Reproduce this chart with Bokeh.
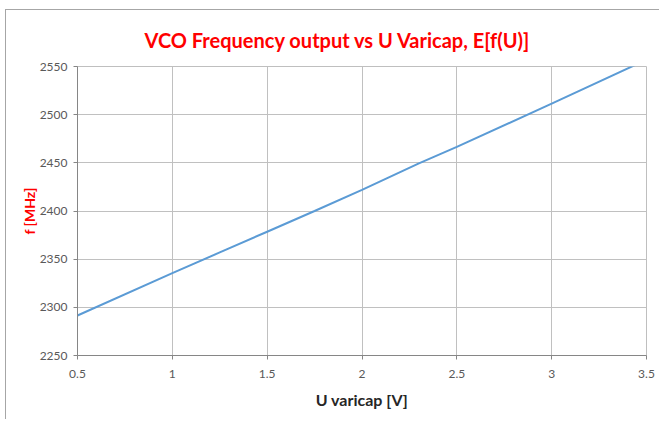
from bokeh.plotting import figure
from bokeh.models import Range1d, FixedTicker, Title
from bokeh.embed import file_html
from bokeh.resources import INLINE

# Data
u_varicap = [0.5, 1.0, 1.25, 1.5, 1.75, 2.0, 2.3, 2.5, 3.0, 3.5]
f_mhz = [2291.5, 2335.5, 2357.0, 2378.5, 2400.0, 2422.0, 2449.5, 2466.5, 2511.5, 2557.0]
x_ticks = [0.5, 1.0, 1.5, 2.0, 2.5, 3.0, 3.5]
y_ticks = [2250, 2300, 2350, 2400, 2450, 2500, 2550]

FONT = "Lato"

p = figure(width=654, height=410, output_backend="svg", toolbar_location=None,
           x_range=Range1d(0.5, 3.5), y_range=Range1d(2250, 2550),
           min_border_left=71, min_border_right=14, min_border_top=56, min_border_bottom=65)

p.title = Title(text="VCO Frequency output vs U Varicap, E[f(U)]", align="left", offset=67,
                text_color="#ff0000", text_font=FONT, text_font_size="20px",
                text_font_style="bold", standoff=30)

p.line(u_varicap, f_mhz, line_color="#5b9bd5", line_width=2)

p.xaxis.ticker = FixedTicker(ticks=x_ticks)
p.yaxis.ticker = FixedTicker(ticks=y_ticks)
p.xaxis.major_label_overrides = {0.5: "0.5", 1.0: "1", 1.5: "1.5", 2.0: "2", 2.5: "2.5", 3.0: "3", 3.5: "3.5"}

for ax in (p.xaxis, p.yaxis):
    ax.axis_line_color = "#868686"
    ax.major_tick_line_color = "#868686"
    ax.major_tick_in = 0
    ax.major_tick_out = 4
    ax.minor_tick_line_color = None
    ax.major_label_text_font = FONT
    ax.major_label_text_font_size = "12px"
    ax.major_label_text_color = "#595959"
    ax.axis_label_text_font = FONT
    ax.axis_label_text_font_style = "bold"

p.xaxis.axis_label = "U varicap [V]"
p.xaxis.axis_label_text_color = "#262626"
p.xaxis.axis_label_text_font_size = "16px"
p.xaxis.major_label_standoff = 10
p.xaxis.axis_label_standoff = 9

p.yaxis.axis_label = "f [MHz]"
p.yaxis.axis_label_text_color = "#ff0000"
p.yaxis.axis_label_text_font_size = "14px"
p.yaxis.major_label_standoff = 6
p.yaxis.axis_label_standoff = -1

p.grid.grid_line_color = "#c0c0c0"
p.grid.grid_line_width = 1
p.outline_line_color = "#bfbfbf"
p.background_fill_color = "white"
p.border_fill_color = "white"
p.styles = {"border-top": "1px solid #a6a6a6", "border-left": "1px solid #a6a6a6",
            "margin-left": "5px", "margin-top": "9px"}

open("out.html", "w").write(file_html(p, INLINE))
